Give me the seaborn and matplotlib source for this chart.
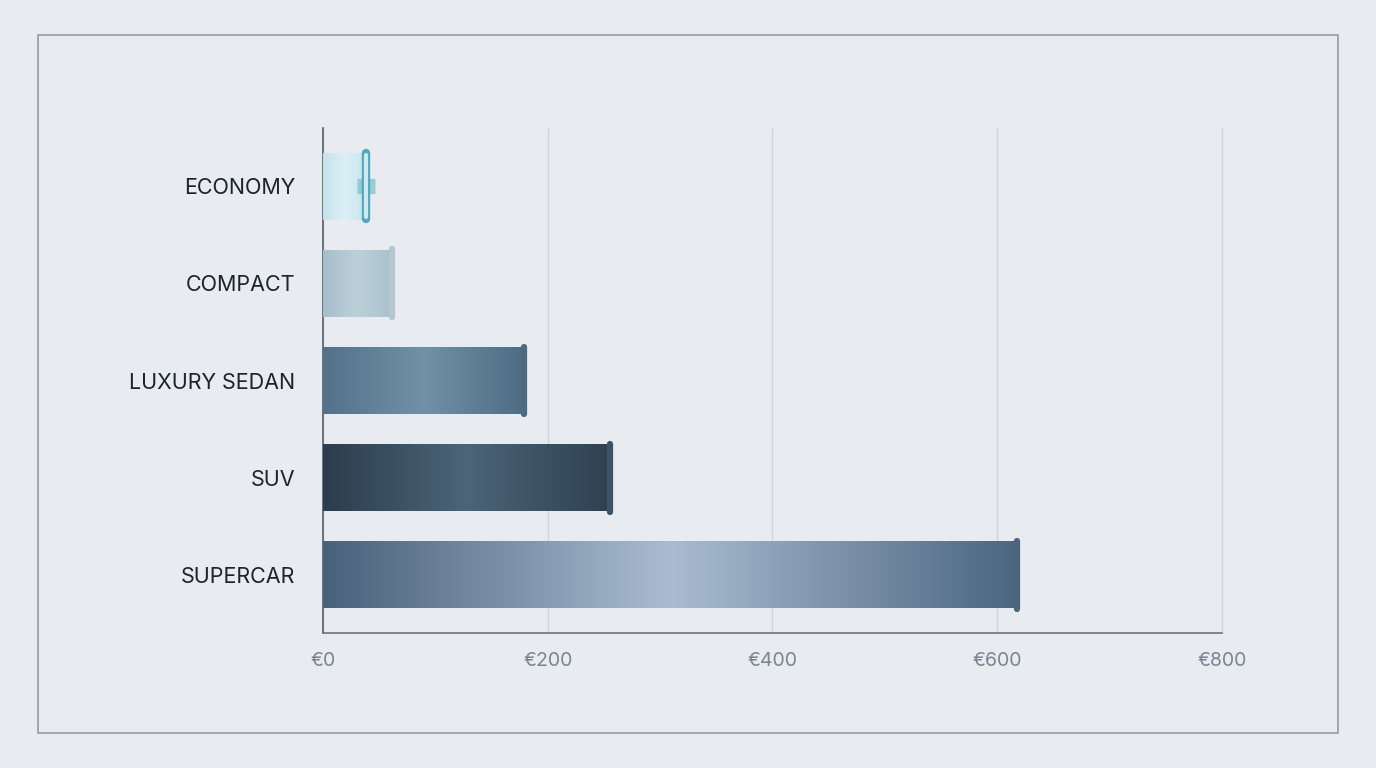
import numpy as np
import pandas as pd
import seaborn as sns
import matplotlib.pyplot as plt
from matplotlib.colors import LinearSegmentedColormap
from matplotlib.patches import Rectangle

# data
categories = ['ECONOMY', 'COMPACT', 'LUXURY SEDAN', 'SUV', 'SUPERCAR']
prices = [38, 61, 179, 255, 618]
xticks = [0, 200, 400, 600, 800]
xtick_labels = ['€0', '€200', '€400', '€600', '€800']

# gradient (edge, middle, edge) and end cap colour per bar
grad_colors = [
    ('#c6e2eb', '#dcf0f6', '#c9e4ed'),
    ('#a6becb', '#bdd0da', '#a9c1cd'),
    ('#53728a', '#7191a6', '#4e6c83'),
    ('#2b3d4d', '#4c6579', '#2e4151'),
    ('#49617b', '#a9bcd1', '#4c6680'),
]
cap_colors = ['#4fa8be', '#b4c6d1', '#4d6a80', '#3c5367', '#4c647e']

bg = '#e8ebef'

sns.set_theme(style='white')
plt.rcParams['font.family'] = ['Inter', 'DejaVu Sans']

df = pd.DataFrame({'category': categories, 'price': prices})

fig = plt.figure(figsize=(13.76, 7.68), dpi=100, facecolor=bg)
ax = fig.add_axes([0.2347, 0.1758, 0.8881 - 0.2347, 0.8333 - 0.1758])
ax.set_facecolor(bg)

sns.barplot(data=df, x='price', y='category', orient='h', width=0.69,
            color='#ffffff', edgecolor='none', ax=ax, zorder=2)

ax.set_xlim(0, 800)
ax.set_ylim(4.6, -0.6)

# paint a horizontal gradient into every bar seaborn drew
for patch, cols in zip(ax.patches, grad_colors):
    x0, y0 = patch.get_x(), patch.get_y()
    w, h = patch.get_width(), patch.get_height()
    cmap = LinearSegmentedColormap.from_list('g', list(cols))
    img = ax.imshow(np.linspace(0, 1, 256).reshape(1, -1), cmap=cmap,
                    extent=[x0, x0 + w, y0 + h, y0], aspect='auto',
                    zorder=3, interpolation='bicubic')
    img.set_clip_path(patch)
    patch.set_facecolor('none')

# end caps
for i, (v, c) in enumerate(zip(prices, cap_colors)):
    if i == 0:
        ax.plot([v - 8, v + 8], [i, i], lw=11, color='#6fbccd', alpha=0.65,
                solid_capstyle='butt', zorder=4)
        ax.plot([v, v], [i - 0.34, i + 0.34], lw=6, color=c,
                solid_capstyle='round', zorder=5)
        ax.plot([v, v], [i - 0.32, i + 0.32], lw=3, color='#cfe9f1',
                solid_capstyle='round', zorder=6)
    else:
        ax.plot([v, v], [i - 0.35, i + 0.35], lw=4.5, color=c,
                solid_capstyle='round', zorder=5)

ax.set_xticks(xticks)
ax.set_xticklabels(xtick_labels)
ax.grid(axis='x', color='#cfd4da', lw=1, zorder=0)
ax.grid(axis='y', visible=False)
for gl in ax.get_xgridlines():
    gl.set_clip_on(False)
ax.set_xlabel('')
ax.set_ylabel('')

for s in ['top', 'right']:
    ax.spines[s].set_visible(False)
ax.spines['left'].set_color('#56606b')
ax.spines['left'].set_linewidth(1.2)
ax.spines['bottom'].set_color('#6b7580')
ax.spines['bottom'].set_linewidth(1.2)

ax.tick_params(axis='x', length=0, pad=14, labelsize=14, labelcolor='#7a8591')
ax.tick_params(axis='y', length=0, pad=20, labelsize=15.5, labelcolor='#1c2430')
for t in ax.get_yticklabels():
    t.set_y(t.get_position()[1])
    t.set_va('center_baseline')

# outer frame
fig.patches.append(Rectangle((38 / 1376, 1 - 733 / 768), 1300 / 1376, 698 / 768,
                             transform=fig.transFigure, fill=False,
                             edgecolor='#8d96a3', lw=1.1))

fig.savefig('out.png', dpi=100, facecolor=bg)
